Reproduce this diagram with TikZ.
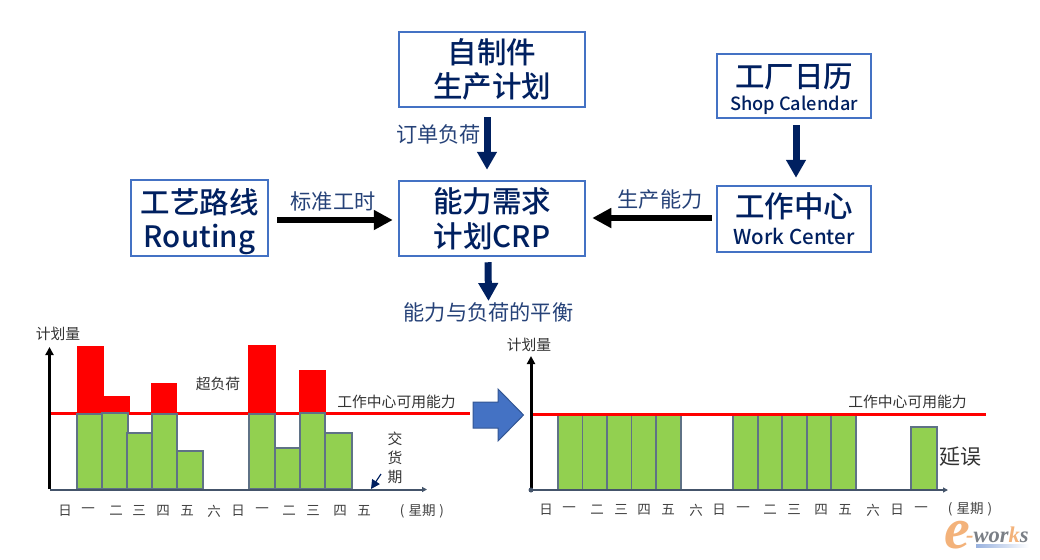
\documentclass[tikz,border=0pt]{standalone}
\usepackage{fontspec}
\usetikzlibrary{arrows.meta}
\newfontfamily\cjk{Noto Sans CJK SC}
\newfontfamily\cjkmed{Noto Sans CJK SC Medium}
\newfontfamily\logofont{Liberation Serif}
\definecolor{navy}{HTML}{002060}
\definecolor{boxblue}{HTML}{4472C4}
\definecolor{axisgray}{HTML}{44546A}
\definecolor{barline}{HTML}{5F7286}
\definecolor{bargreen}{HTML}{92D050}
\definecolor{logoorange}{HTML}{F3B27A}
\definecolor{logogray}{HTML}{7A7F86}
\newcommand{\fs}[2]{\fontsize{#1}{#2}\selectfont}
\tikzset{
  titlebox/.style={draw=boxblue,line width=2.5pt,fill=white,inner sep=0pt,align=center,text=navy,font=\cjkmed},
  navyarrow/.style={draw=navy,line width=7pt,-{Triangle[length=18pt,width=19pt]}},
  blackarrow/.style={draw=black,line width=6pt,-{Triangle[length=19pt,width=19pt]}},
  flowlabel/.style={text=navy!85!white,font=\cjk\fs{21.2}{24},inner sep=0pt},
  chartlabel/.style={text=black!80,font=\cjk\fs{14.8}{18},inner sep=0pt},
  daylabel/.style={text=black!75,font=\cjk\fs{13.5}{16},inner sep=0pt},
  greenbar/.style={fill=bargreen,draw=barline,line width=1.2pt},
  redbar/.style={fill=red,draw=none},
  capline/.style={draw=red,line width=3pt},
  yaxis/.style={draw=black,line width=3pt,-{Triangle[length=8pt,width=8pt]}},
  xaxis/.style={draw=axisgray,line width=2pt,-{Triangle[length=5pt,width=5pt]}},
}
\begin{document}
\begin{tikzpicture}[x=1pt,y=-1pt]
\useasboundingbox (0,0) rectangle (1040,559);
% flow boxes
\node[titlebox,minimum width=186pt,minimum height=75pt] (plan) at (492,69.5)
  {\fs{29.5}{34}自制件\\[5pt]\fs{29.5}{34}生产计划};
\node[titlebox,minimum width=186pt,minimum height=75pt] (crp) at (492,218.5)
  {\fs{29.5}{34}能力需求\\[6pt]\fs{29.5}{34}计划CRP};
\node[titlebox,minimum width=137pt,minimum height=76pt] (route) at (199.5,218)
  {\rule{0pt}{32pt}\fs{29.5}{34}工艺路线\\[7pt]\fs{29.5}{34}Routing};
\node[titlebox,minimum width=154pt,minimum height=64pt] (cal) at (794,86)
  {\rule{0pt}{30pt}\fs{29.5}{33}工厂日历\\[6pt]\fs{18.2}{20}Shop Calendar};
\node[titlebox,minimum width=154pt,minimum height=66pt] (wc) at (794,219)
  {\fs{29.5}{33}工作中心\\[7pt]\fs{20.5}{22}Work Center};
% flow labels
\node[flowlabel] (lorder) at (438.5,134) {订单负荷};
\node[flowlabel] (lstd) at (333,201) {标准工时};
\node[flowlabel] (lcap) at (660,199) {生产能力};
\node[flowlabel] (balance) at (488.5,312) {能力与负荷的平衡};
% flow arrows
\draw[navyarrow] ([xshift=-5pt,yshift=-9pt]plan.south) -- ([xshift=-5pt,yshift=10pt]crp.north);
\draw[navyarrow] ([xshift=-4pt,yshift=-5pt]crp.south) -- ([yshift=1pt]balance.north);
\draw[navyarrow] ([xshift=2pt,yshift=-6pt]cal.south) -- ([xshift=2pt,yshift=7pt]wc.north);
\draw[blackarrow] ([xshift=8pt,yshift=-2pt]route.east) -- ([xshift=-5pt,yshift=-1.5pt]crp.west);
\draw[blackarrow] ([xshift=-4pt,yshift=1pt]wc.west) -- ([xshift=6pt,yshift=0.5pt]crp.east);
% left chart
\foreach \a/\b/\t in {77/104/346,104/130/396,151/177/383,248/276/345,299/326/370}
  \fill[redbar] (\a,\t) rectangle (\b,414);
\draw[capline] (50,413) -- (470,413);
\foreach \a/\b/\t in {77/102/414,102/128/413,127/152/433,152/177/414,177/203/451,249/275/414,275/300/448,300/325/413,325/352/433}
  \draw[greenbar] (\a,\t) rectangle (\b,489);
\coordinate (o1) at (49.5,489);
\coordinate (ytop1) at (49.5,347);
\coordinate (xend1) at (427,489.5);
\coordinate (xstart1) at (50,489.5);
\draw[yaxis] (o1) -- (ytop1);
\draw[xaxis] (xstart1) -- (xend1);
\node[chartlabel] (yl1) at (58,334) {计划量};
\node[chartlabel] (over) at (218,384) {超负荷};
\node[chartlabel] (avail1) at (396.5,402) {工作中心可用能力};
\node[chartlabel,align=center] (due) at (395,458) {交\\[1pt]货\\[1pt]期};
\coordinate (duefrom) at (381,474);
\coordinate (dueto) at (371,489);
\draw[navy,line width=1.2pt,-{Triangle[length=9pt,width=9pt]}] (duefrom) -- (dueto);
\foreach \x/\d in {65/日,88/一,116/二,139/三,163/四,187/五,214/六,238/日,262/一,289/二,313/三,340/四,364/五}
  \node[daylabel] at (\x,511) {\d};
\node[daylabel] (wk1) at (422,511) {(\hspace{4pt}星期\hspace{4pt})};
% block arrow
\draw[fill=boxblue,draw=boxblue!75!black,line width=1pt] (473,402) -- (498,402) -- (498,389) -- (523.5,415) -- (498,441) -- (498,428) -- (473,428) -- cycle;
% right chart
\foreach \a/\b in {558/582.5,582.5/607,607/631.5,631.5/656,656/681,733/758,758/782,782/807,807/831,831/856}
  \draw[greenbar] (\a,415.5) rectangle (\b,489.5);
\draw[greenbar] (911,427) rectangle (937,489.5);
\draw[capline] (531,414) -- (986,414);
\coordinate (o2) at (531,490);
\coordinate (ytop2) at (531,356);
\coordinate (xend2) at (948,490);
\draw[yaxis] (o2) -- (ytop2);
\draw[xaxis] (o2) -- (xend2);
\fill[axisgray] (o2) circle (2.5);
\node[chartlabel] (yl2) at (529,345) {计划量};
\node[chartlabel] (avail2) at (907.5,402) {工作中心可用能力};
\node[text=black!80,font=\cjk\fs{21}{24},inner sep=0pt] (late) at (960,457) {延误};
\foreach \x/\d in {546/日,569/一,597/二,621/三,644/四,668/五,696/六,719/日,743/一,770/二,794/三,821/四,845/五,873/六,897/日,921/一}
  \node[daylabel] at (\x,510) {\d};
\node[daylabel] (wk2) at (970,509) {(\hspace{4pt}星期\hspace{4pt})};
% logo
\node[text=logoorange,font=\logofont\bfseries\itshape\fs{58}{58},inner sep=0pt,anchor=base west,text height=26pt,text depth=0pt] (le) at (944,548) {e};
\node[font=\logofont\bfseries\itshape\fs{22.5}{22},inner sep=0pt,anchor=base west,text=logogray] (lw) at (966,542)
  {\textcolor{logoorange}{-}wor\textcolor{logoorange}{k}s};
\shade[left color=boxblue!55,right color=white] (976,544) rectangle (1029,547.5);
\end{tikzpicture}
\end{document}
